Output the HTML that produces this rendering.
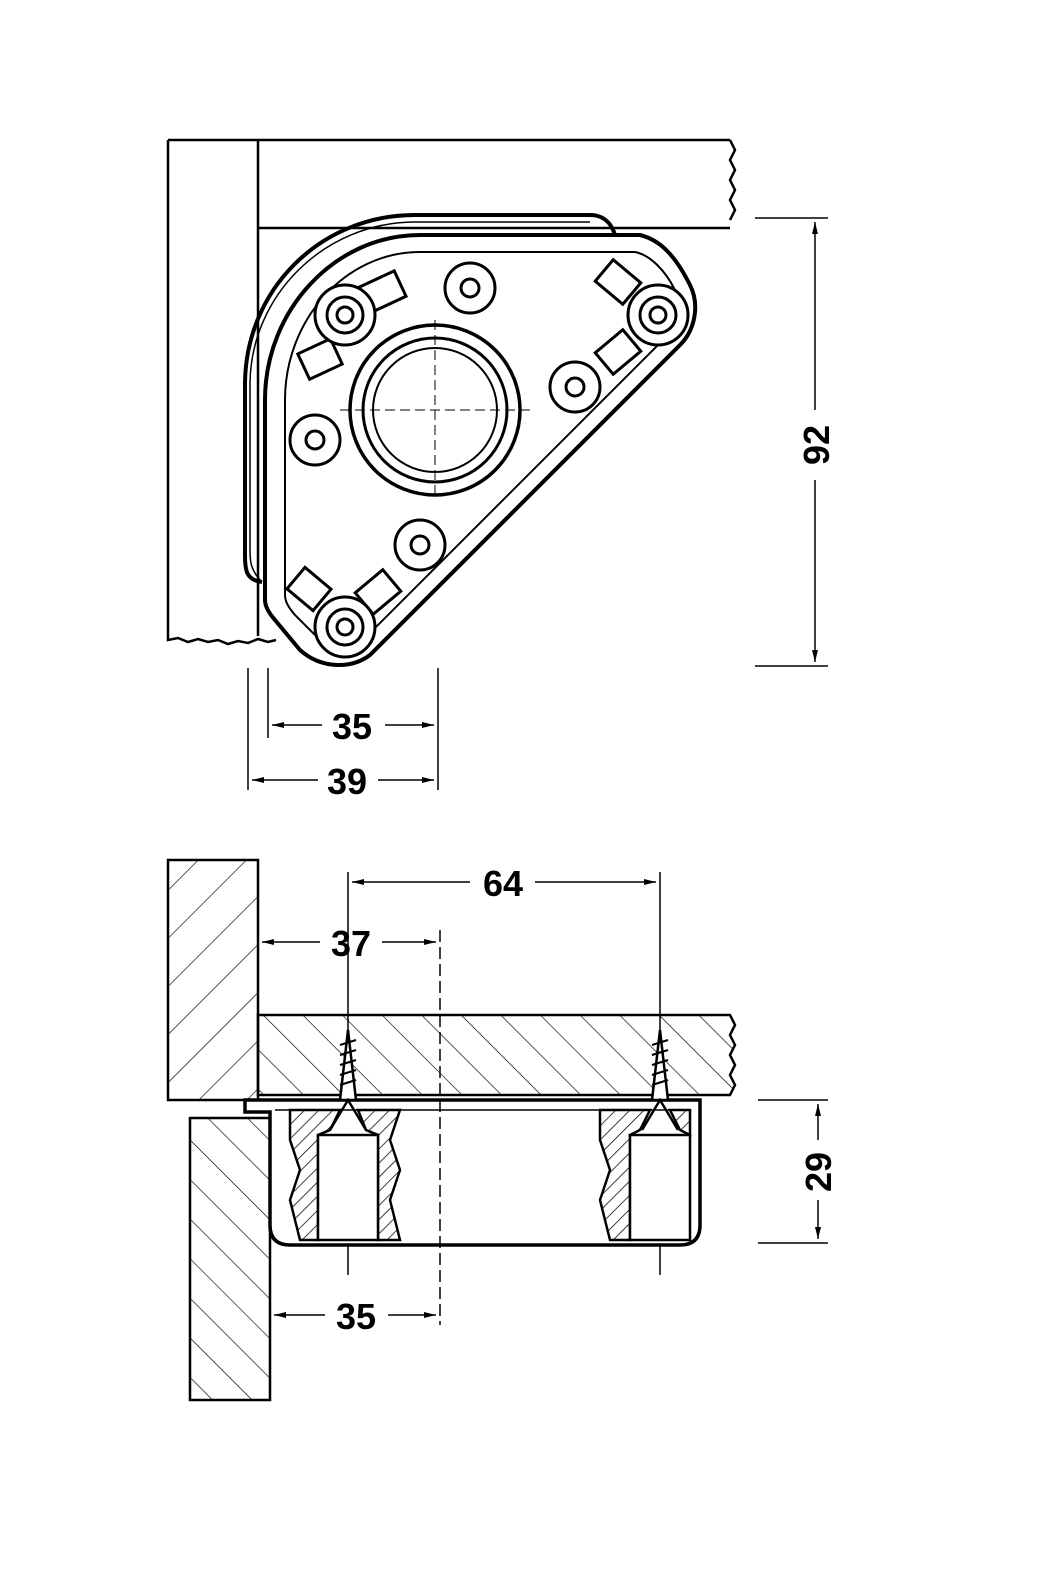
<!DOCTYPE html>
<html><head><style>html,body{margin:0;padding:0;background:#fff}svg{display:block}</style></head><body>
<svg width="1042" height="1586" viewBox="0 0 1042 1586" xmlns="http://www.w3.org/2000/svg" font-family="Liberation Sans, sans-serif">
<defs>
<pattern id="h1" width="34" height="34" patternUnits="userSpaceOnUse" patternTransform="rotate(45)"><line x1="0" y1="0" x2="0" y2="34" stroke="#000" stroke-width="1.3"/></pattern>
<pattern id="h2" width="28" height="28" patternUnits="userSpaceOnUse" patternTransform="rotate(-45)"><line x1="0" y1="0" x2="0" y2="28" stroke="#000" stroke-width="1.3"/></pattern>
<pattern id="h3" width="10" height="10" patternUnits="userSpaceOnUse" patternTransform="rotate(45)"><line x1="0" y1="0" x2="0" y2="10" stroke="#000" stroke-width="1.5"/></pattern>
<marker id="a" markerWidth="12" markerHeight="8" refX="12" refY="4" orient="auto" markerUnits="userSpaceOnUse"><path d="M0,1 L12,4 L0,7z" fill="#000"/></marker>
</defs>
<g fill="none" stroke="#000" stroke-width="2.5">
<path d="M168,140 L730,140 M258,228 L730,228 M730,140 l5,10 -5,10 5,10 -5,10 5,10 -5,10 5,10 -5,10 M168,140 L168,640 l10,-2 10,4 10,-3 10,3 10,-2 10,4 10,-3 10,2 10,-4 10,3 8,-2 M258,140 L258,636"/>
<path d="M262,582 C246,580 245,570 245,555 L245,385 C245,290 320,215 415,215 L590,215 C605,215 612,225 615,235" stroke-width="4"/>
<path d="M262,582 C250,570 250,560 250,550 L250,385 C250,295 325,222 415,222 L590,222" stroke-width="1.5"/>
<path d="M265,600 L265,400 C265,310 335,235 420,235 L640,235 C660,240 675,255 690,285 C700,305 695,330 680,345 L370,655 C350,670 320,668 300,650 L275,620 C268,612 265,605 265,600Z" stroke-width="4"/>
<path d="M285,595 L285,400 C285,320 345,252 420,252 L635,252 C650,255 665,270 675,290 C683,305 680,325 668,335 L365,638 C350,650 330,648 318,638 L295,615 C289,608 285,602 285,595Z" stroke-width="2"/>
<circle cx="435" cy="410" r="85" stroke-width="3.5"/>
<circle cx="435" cy="410" r="72" stroke-width="3"/>
<circle cx="435" cy="410" r="62" stroke-width="2"/>
<path d="M435,320 L435,500 M340,410 L530,410" stroke-width="1" stroke-dasharray="10,5"/>
<g stroke-width="3">
<rect x="362" y="278" width="40" height="28" transform="rotate(-25 382 292)"/>
<rect x="302" y="345" width="36" height="28" transform="rotate(-25 320 359)"/>
<rect x="600" y="268" width="36" height="28" transform="rotate(40 618 282)"/>
<rect x="600" y="338" width="36" height="28" transform="rotate(-40 618 352)"/>
<rect x="292" y="575" width="34" height="28" transform="rotate(40 309 589)"/>
<rect x="360" y="578" width="36" height="28" transform="rotate(-40 378 592)"/>
</g>
<g fill="#fff" stroke-width="3">
<circle cx="345" cy="315" r="30"/><circle cx="345" cy="315" r="18"/><circle cx="345" cy="315" r="8"/>
<circle cx="658" cy="315" r="30"/><circle cx="658" cy="315" r="18"/><circle cx="658" cy="315" r="8"/>
<circle cx="345" cy="627" r="30"/><circle cx="345" cy="627" r="18"/><circle cx="345" cy="627" r="8"/>
<circle cx="470" cy="288" r="25"/><circle cx="470" cy="288" r="9"/>
<circle cx="575" cy="387" r="25"/><circle cx="575" cy="387" r="9"/>
<circle cx="315" cy="440" r="25"/><circle cx="315" cy="440" r="9"/>
<circle cx="420" cy="545" r="25"/><circle cx="420" cy="545" r="9"/>
</g>
<g stroke-width="1.5">
<path d="M755,218 L828,218 M755,666 L828,666"/>
<path d="M815,410 L815,222" marker-end="url(#a)"/><path d="M815,480 L815,662" marker-end="url(#a)"/>
<path d="M268,668 L268,738 M438,668 L438,790 M248,668 L248,790"/>
<path d="M322,725 L272,725" marker-end="url(#a)"/><path d="M385,725 L434,725" marker-end="url(#a)"/>
<path d="M318,780 L252,780" marker-end="url(#a)"/><path d="M378,780 L434,780" marker-end="url(#a)"/>
</g>
<path d="M168,860 L258,860 L258,1100 L168,1100Z" fill="url(#h1)"/>
<path d="M258,1015 L730,1015 l5,10 -5,10 5,10 -5,10 5,10 -5,10 5,10 -5,10 L258,1095Z" fill="url(#h2)"/>
<path d="M190,1118 L270,1118 L270,1400 L190,1400Z" fill="url(#h2)"/>
<path d="M245,1100 L700,1100 L700,1225 Q700,1245 680,1245 L290,1245 Q270,1245 270,1225 L270,1112 L245,1112Z" fill="#fff" stroke-width="3.5"/>
<path d="M275,1110 L690,1110" stroke-width="1.5"/>
<path d="M290,1110 L340,1110 L330,1130 L318,1135 L318,1240 L300,1240 L290,1200 L300,1170 L290,1140Z" fill="url(#h3)"/>
<path d="M358,1110 L400,1110 L390,1140 L400,1170 L390,1200 L400,1240 L378,1240 L378,1135 L366,1130Z" fill="url(#h3)"/>
<path d="M600,1110 L650,1110 L640,1130 L630,1135 L630,1240 L610,1240 L600,1200 L610,1170 L600,1140Z" fill="url(#h3)"/>
<path d="M670,1110 L690,1110 L690,1135 L680,1130Z" fill="url(#h3)"/>
<rect x="318" y="1135" width="60" height="105" fill="#fff"/>
<rect x="630" y="1135" width="60" height="105" fill="#fff"/>
<path d="M348,1030 L356,1100 L340,1100Z M660,1030 L668,1100 L652,1100Z" fill="#fff" stroke-width="2.5"/>
<path d="M340,1045 l16,-5 M340,1055 l16,-5 M340,1065 l16,-5 M340,1075 l16,-5 M340,1085 l16,-5 M652,1045 l16,-5 M652,1055 l16,-5 M652,1065 l16,-5 M652,1075 l16,-5 M652,1085 l16,-5" stroke-width="2"/>
<path d="M330,1130 L348,1100 L366,1130 M642,1130 L660,1100 L678,1130" stroke-width="2.5"/>
<g stroke-width="1.5">
<path d="M348,872 L348,1030 M348,1245 L348,1275 M660,872 L660,1030 M660,1245 L660,1275"/>
<path d="M440,930 L440,1325" stroke-dasharray="12,5"/>
<path d="M470,882 L352,882" marker-end="url(#a)"/><path d="M535,882 L656,882" marker-end="url(#a)"/>
<path d="M320,942 L262,942" marker-end="url(#a)"/><path d="M382,942 L436,942" marker-end="url(#a)"/>
<path d="M325,1315 L274,1315" marker-end="url(#a)"/><path d="M388,1315 L436,1315" marker-end="url(#a)"/>
<path d="M270,1250 L270,1325"/>
<path d="M758,1100 L828,1100 M758,1243 L828,1243"/>
<path d="M818,1140 L818,1104" marker-end="url(#a)"/><path d="M818,1200 L818,1239" marker-end="url(#a)"/>
</g>
</g>
<g font-weight="bold" font-size="36" text-anchor="middle">
<text x="352" y="739">35</text>
<text x="347" y="794">39</text>
<text x="503" y="896">64</text>
<text x="351" y="956">37</text>
<text x="356" y="1329">35</text>
<text transform="translate(829,445) rotate(-90)">92</text>
<text transform="translate(831,1172) rotate(-90)">29</text>
</g>
</svg>
</body></html>
